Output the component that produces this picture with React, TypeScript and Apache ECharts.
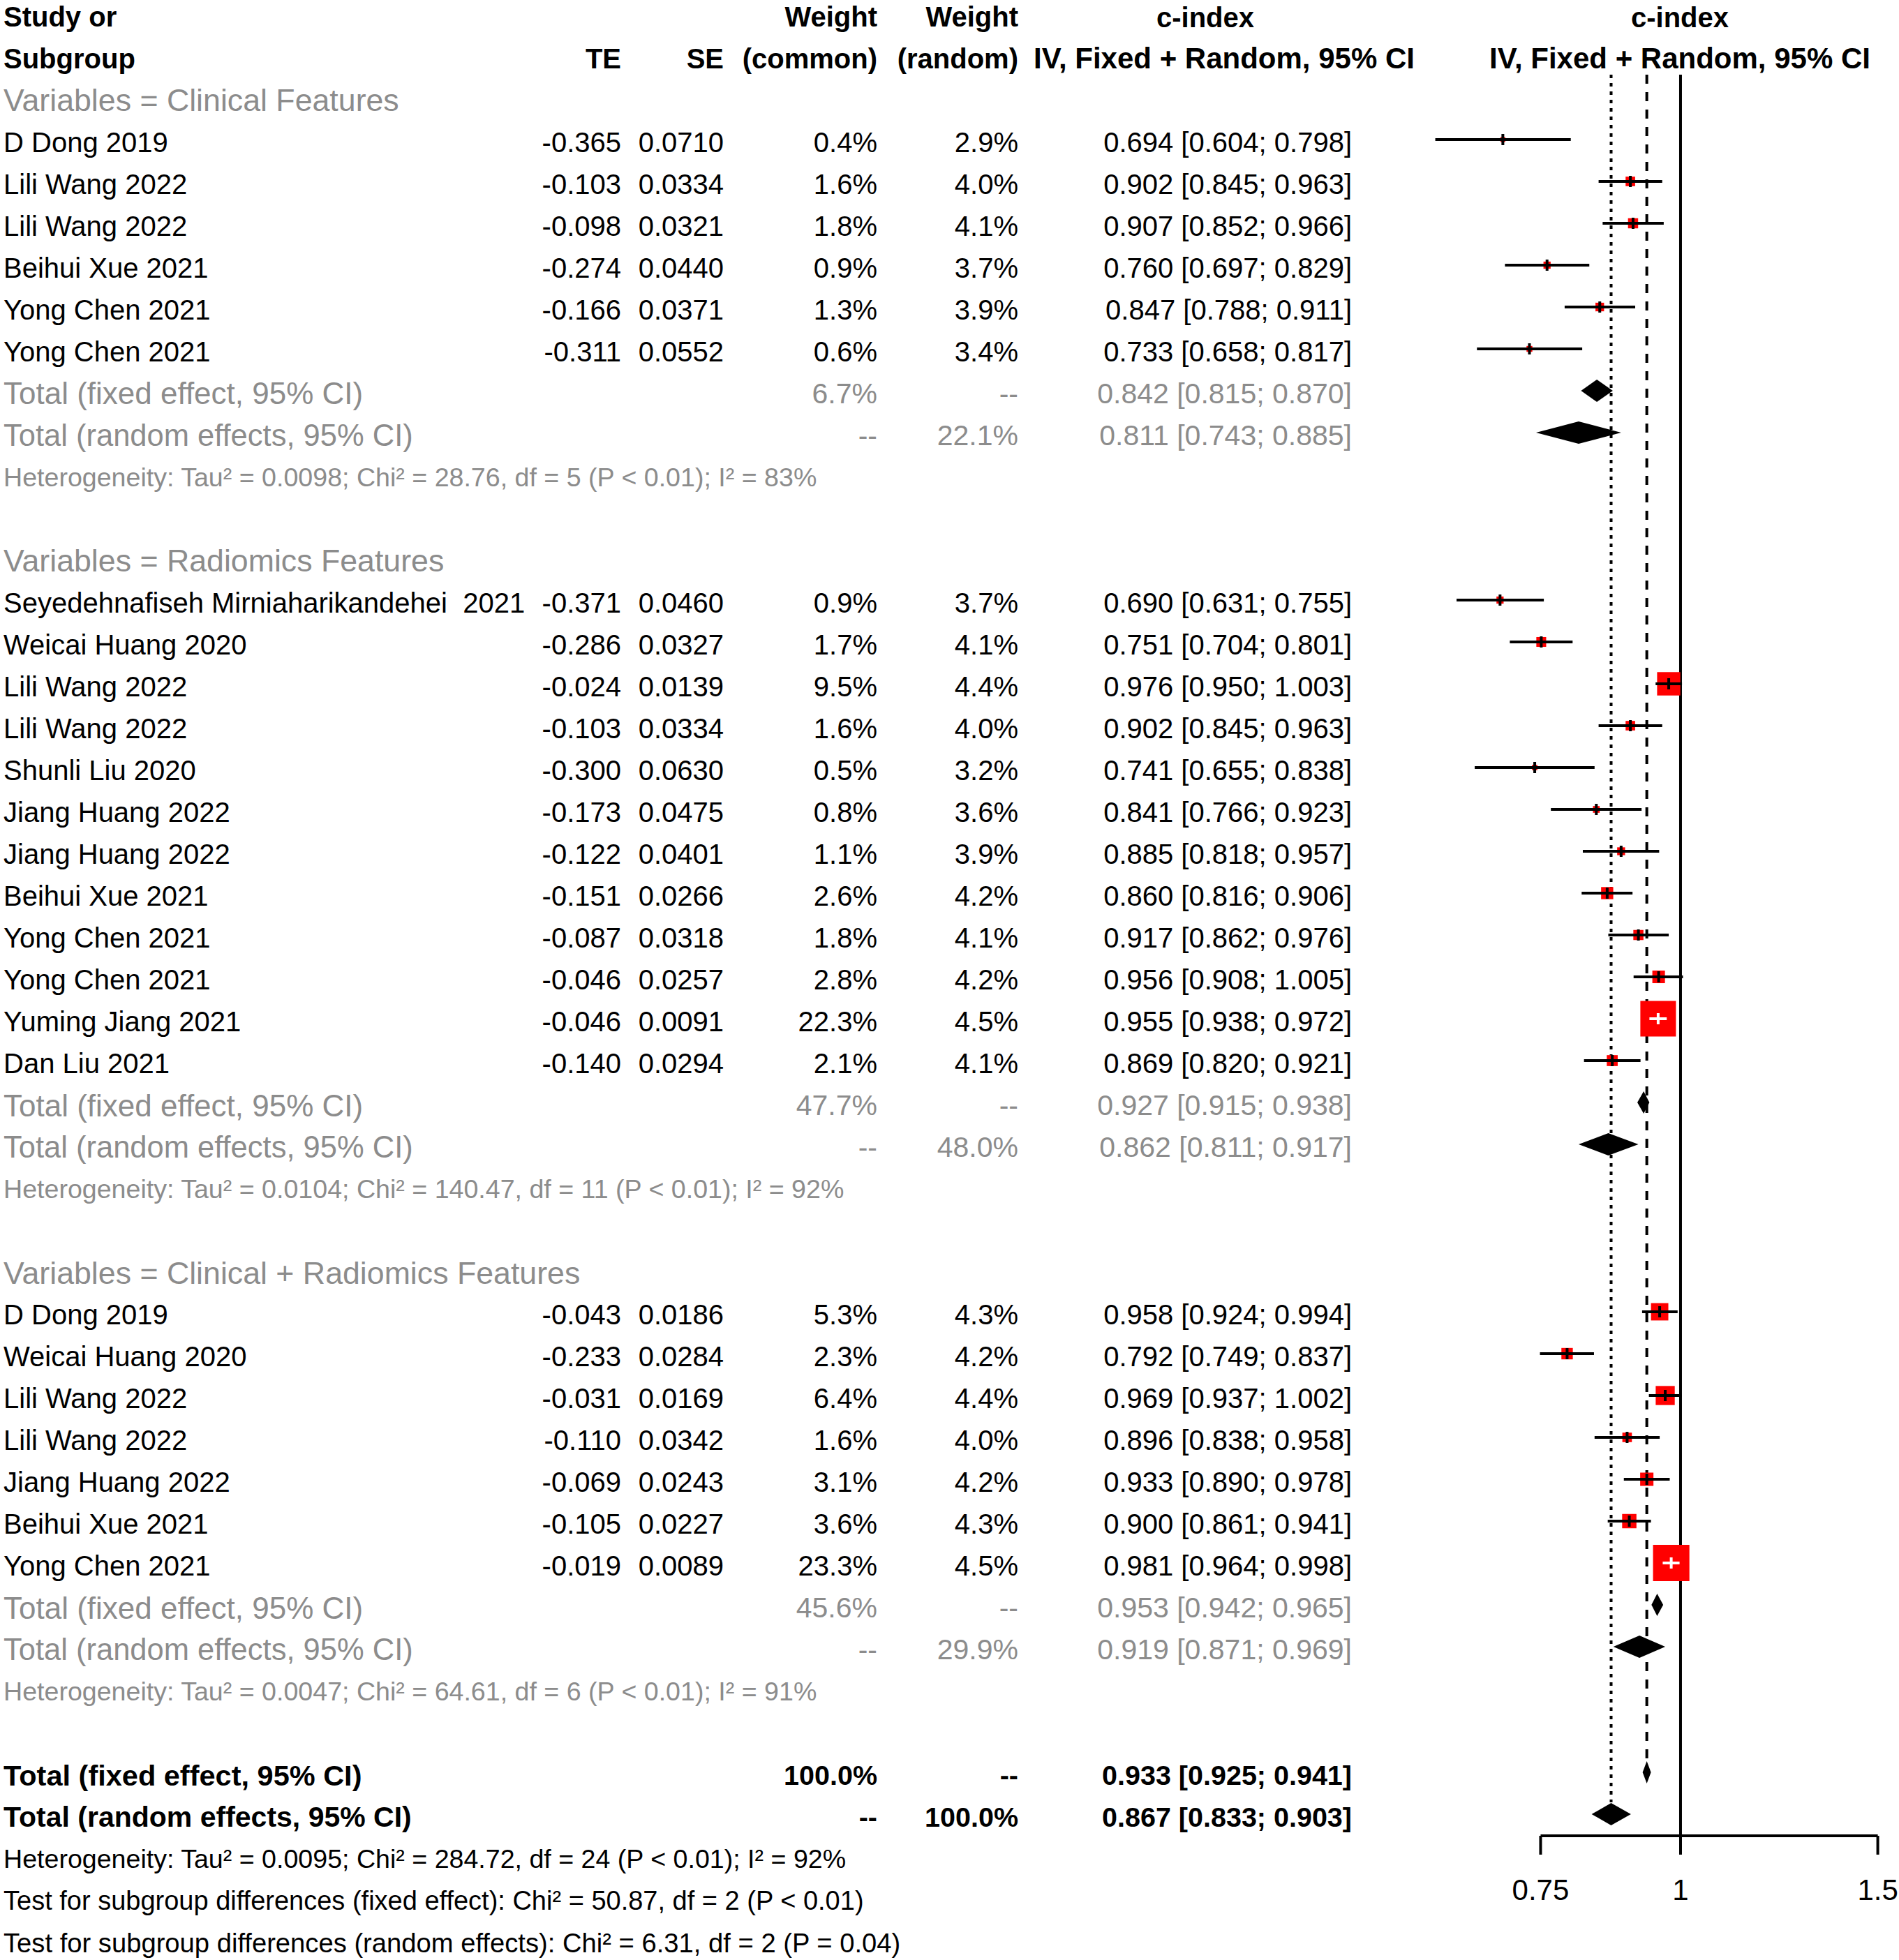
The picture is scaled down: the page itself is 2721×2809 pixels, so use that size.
import React, { useEffect, useRef } from "react";
import * as echarts from "echarts";

// ---------------- DATA ----------------
const groupLabels = [
  "Variables = Clinical Features",
  "Variables = Radiomics Features",
  "Variables = Clinical + Radiomics Features",
];

const clinNames = ["D Dong 2019", "Lili Wang 2022", "Lili Wang 2022", "Beihui Xue 2021", "Yong Chen 2021", "Yong Chen 2021"];
const clinTE = [-0.365, -0.103, -0.098, -0.274, -0.166, -0.311];
const clinSE = [0.071, 0.0334, 0.0321, 0.044, 0.0371, 0.0552];
const clinWCommon = [0.4, 1.6, 1.8, 0.9, 1.3, 0.6];
const clinWRandom = [2.9, 4.0, 4.1, 3.7, 3.9, 3.4];
const clinEst = [0.694, 0.902, 0.907, 0.76, 0.847, 0.733];
const clinLow = [0.604, 0.845, 0.852, 0.697, 0.788, 0.658];
const clinHigh = [0.798, 0.963, 0.966, 0.829, 0.911, 0.817];

const radNames = [
  "Seyedehnafiseh Mirniaharikandehei  2021", "Weicai Huang 2020", "Lili Wang 2022", "Lili Wang 2022",
  "Shunli Liu 2020", "Jiang Huang 2022", "Jiang Huang 2022", "Beihui Xue 2021", "Yong Chen 2021",
  "Yong Chen 2021", "Yuming Jiang 2021", "Dan Liu 2021",
];
const radTE = [-0.371, -0.286, -0.024, -0.103, -0.3, -0.173, -0.122, -0.151, -0.087, -0.046, -0.046, -0.14];
const radSE = [0.046, 0.0327, 0.0139, 0.0334, 0.063, 0.0475, 0.0401, 0.0266, 0.0318, 0.0257, 0.0091, 0.0294];
const radWCommon = [0.9, 1.7, 9.5, 1.6, 0.5, 0.8, 1.1, 2.6, 1.8, 2.8, 22.3, 2.1];
const radWRandom = [3.7, 4.1, 4.4, 4.0, 3.2, 3.6, 3.9, 4.2, 4.1, 4.2, 4.5, 4.1];
const radEst = [0.69, 0.751, 0.976, 0.902, 0.741, 0.841, 0.885, 0.86, 0.917, 0.956, 0.955, 0.869];
const radLow = [0.631, 0.704, 0.95, 0.845, 0.655, 0.766, 0.818, 0.816, 0.862, 0.908, 0.938, 0.82];
const radHigh = [0.755, 0.801, 1.003, 0.963, 0.838, 0.923, 0.957, 0.906, 0.976, 1.005, 0.972, 0.921];

const combNames = ["D Dong 2019", "Weicai Huang 2020", "Lili Wang 2022", "Lili Wang 2022", "Jiang Huang 2022", "Beihui Xue 2021", "Yong Chen 2021"];
const combTE = [-0.043, -0.233, -0.031, -0.11, -0.069, -0.105, -0.019];
const combSE = [0.0186, 0.0284, 0.0169, 0.0342, 0.0243, 0.0227, 0.0089];
const combWCommon = [5.3, 2.3, 6.4, 1.6, 3.1, 3.6, 23.3];
const combWRandom = [4.3, 4.2, 4.4, 4.0, 4.2, 4.3, 4.5];
const combEst = [0.958, 0.792, 0.969, 0.896, 0.933, 0.9, 0.981];
const combLow = [0.924, 0.749, 0.937, 0.838, 0.89, 0.861, 0.964];
const combHigh = [0.994, 0.837, 1.002, 0.958, 0.978, 0.941, 0.998];

const subFixedEst = [0.842, 0.927, 0.953];
const subFixedLow = [0.815, 0.915, 0.942];
const subFixedHigh = [0.87, 0.938, 0.965];
const subFixedW = [6.7, 47.7, 45.6];
const subRandomEst = [0.811, 0.862, 0.919];
const subRandomLow = [0.743, 0.811, 0.871];
const subRandomHigh = [0.885, 0.917, 0.969];
const subRandomW = [22.1, 48.0, 29.9];
const subHet = [
  "Heterogeneity: Tau² = 0.0098; Chi² = 28.76, df = 5 (P < 0.01); I² = 83%",
  "Heterogeneity: Tau² = 0.0104; Chi² = 140.47, df = 11 (P < 0.01); I² = 92%",
  "Heterogeneity: Tau² = 0.0047; Chi² = 64.61, df = 6 (P < 0.01); I² = 91%",
];

const overallFixed = [0.933, 0.925, 0.941];
const overallRandom = [0.867, 0.833, 0.903];
const overallNotes = [
  "Heterogeneity: Tau² = 0.0095; Chi² = 284.72, df = 24 (P < 0.01); I² = 92%",
  "Test for subgroup differences (fixed effect): Chi² = 50.87, df = 2 (P < 0.01)",
  "Test for subgroup differences (random effects): Chi² = 6.31, df = 2 (P = 0.04)",
];

const axisTicks = [0.75, 1, 1.5];
const axisTickLabels = ["0.75", "1", "1.5"];

// ---------------- BUILD ROWS ----------------
const groups = [
  { names: clinNames, te: clinTE, se: clinSE, wc: clinWCommon, wr: clinWRandom, est: clinEst, lo: clinLow, hi: clinHigh },
  { names: radNames, te: radTE, se: radSE, wc: radWCommon, wr: radWRandom, est: radEst, lo: radLow, hi: radHigh },
  { names: combNames, te: combTE, se: combSE, wc: combWCommon, wr: combWRandom, est: combEst, lo: combLow, hi: combHigh },
];

type Row = { row: number; kind: string; g?: number; i?: number };
const rows: Row[] = [];
const studyMarks: number[][] = [];
const diamondMarks: number[][] = [];
rows.push({ row: 0, kind: "head0" });
rows.push({ row: 1, kind: "head1" });
let r = 2;
groups.forEach((g, gi) => {
  rows.push({ row: r++, kind: "group", g: gi });
  g.names.forEach((_, i) => {
    rows.push({ row: r, kind: "study", g: gi, i });
    studyMarks.push([Math.log(g.est[i]), r, Math.log(g.lo[i]), Math.log(g.hi[i]), g.wc[i]]);
    r++;
  });
  rows.push({ row: r, kind: "fixed", g: gi });
  diamondMarks.push([Math.log(subFixedEst[gi]), r, Math.log(subFixedLow[gi]), Math.log(subFixedHigh[gi])]);
  r++;
  rows.push({ row: r, kind: "random", g: gi });
  diamondMarks.push([Math.log(subRandomEst[gi]), r, Math.log(subRandomLow[gi]), Math.log(subRandomHigh[gi])]);
  r++;
  rows.push({ row: r++, kind: "het", g: gi });
  r++; // blank
});
const overallFixedRow = r;
rows.push({ row: r, kind: "ofixed" });
diamondMarks.push([Math.log(overallFixed[0]), r, Math.log(overallFixed[1]), Math.log(overallFixed[2])]);
r++;
const overallRandomRow = r;
rows.push({ row: r, kind: "orandom" });
diamondMarks.push([Math.log(overallRandom[0]), r, Math.log(overallRandom[1]), Math.log(overallRandom[2])]);
r++;
overallNotes.forEach((_, i) => rows.push({ row: r++, kind: "onote", i }));

const refLines = [
  [0, overallRandomRow + 0.6],
  [Math.log(overallRandom[0]), overallRandomRow],
  [Math.log(overallFixed[0]), overallFixedRow],
];

// ---------------- STYLE / LAYOUT ----------------
const FONT = '"Liberation Sans", Arial, sans-serif';
const GRAY = "#8c8c8c";
const COL = { name: 5, te: 890, se: 1037, wc: 1257, wr: 1459, ci: 1937, ciHead: 1754, plot: 2407 };
const NOTE_SIZES = [37.6, 38, 38.2];
const fmtCI = (e: number, l: number, h: number) => `${e.toFixed(3)} [${l.toFixed(3)}; ${h.toFixed(3)}]`;

function txt(text: string, x: number, y: number, align: string, size: number, color: string, weight = "normal") {
  return {
    type: "text",
    x,
    y: y + 4,
    style: { text, fill: color, fontSize: size, fontFamily: FONT, fontWeight: weight, align, verticalAlign: "middle" },
  };
}

export default function App() {
  const ref = useRef<HTMLDivElement>(null);
  useEffect(() => {
    if (!ref.current) return;
    const chart = echarts.init(ref.current, undefined, { renderer: "svg" });

    const tableRender = (params: any, api: any) => {
      const row = rows[params.dataIndex];
      const y = api.coord([0, api.value(1)])[1];
      const ch: any[] = [];
      const g = row.g ?? 0;
      switch (row.kind) {
        case "head0":
          ch.push(txt("Study or", COL.name, y, "left", 40, "#000", "bold"));
          ch.push(txt("Weight", COL.wc, y, "right", 40, "#000", "bold"));
          ch.push(txt("Weight", COL.wr, y, "right", 40, "#000", "bold"));
          ch.push(txt("c-index", 1727, y + 1, "center", 40, "#000", "bold"));
          ch.push(txt("c-index", COL.plot, y + 1, "center", 40, "#000", "bold"));
          break;
        case "head1":
          ch.push(txt("Subgroup", COL.name, y, "left", 40, "#000", "bold"));
          ch.push(txt("TE", COL.te, y, "right", 40, "#000", "bold"));
          ch.push(txt("SE", COL.se, y, "right", 40, "#000", "bold"));
          ch.push(txt("(common)", COL.wc, y, "right", 40, "#000", "bold"));
          ch.push(txt("(random)", COL.wr, y, "right", 40, "#000", "bold"));
          ch.push(txt("IV, Fixed + Random, 95% CI", COL.ciHead, y, "center", 42, "#000", "bold"));
          ch.push(txt("IV, Fixed + Random, 95% CI", COL.plot, y, "center", 42, "#000", "bold"));
          break;
        case "group":
          ch.push(txt(groupLabels[g], COL.name, y, "left", 44.7, GRAY));
          break;
        case "study": {
          const gr = groups[g];
          const i = row.i ?? 0;
          ch.push(txt(gr.names[i], COL.name, y, "left", 40, "#000"));
          ch.push(txt(gr.te[i].toFixed(3), COL.te, y, "right", 40, "#000"));
          ch.push(txt(gr.se[i].toFixed(4), COL.se, y, "right", 40, "#000"));
          ch.push(txt(gr.wc[i].toFixed(1) + "%", COL.wc, y, "right", 40, "#000"));
          ch.push(txt(gr.wr[i].toFixed(1) + "%", COL.wr, y, "right", 40, "#000"));
          ch.push(txt(fmtCI(gr.est[i], gr.lo[i], gr.hi[i]), COL.ci, y, "right", 40, "#000"));
          break;
        }
        case "fixed":
          ch.push(txt("Total (fixed effect, 95% CI)", COL.name, y, "left", 44, GRAY));
          ch.push(txt(subFixedW[g].toFixed(1) + "%", COL.wc, y, "right", 41, GRAY));
          ch.push(txt("--", COL.wr, y, "right", 41, GRAY));
          ch.push(txt(fmtCI(subFixedEst[g], subFixedLow[g], subFixedHigh[g]), COL.ci, y, "right", 41, GRAY));
          break;
        case "random":
          ch.push(txt("Total (random effects, 95% CI)", COL.name, y, "left", 43.5, GRAY));
          ch.push(txt("--", COL.wc, y, "right", 41, GRAY));
          ch.push(txt(subRandomW[g].toFixed(1) + "%", COL.wr, y, "right", 41, GRAY));
          ch.push(txt(fmtCI(subRandomEst[g], subRandomLow[g], subRandomHigh[g]), COL.ci, y, "right", 41, GRAY));
          break;
        case "het":
          ch.push(txt(subHet[g], COL.name, y, "left", 37.6, GRAY));
          break;
        case "ofixed":
          ch.push(txt("Total (fixed effect, 95% CI)", COL.name, y, "left", 41.5, "#000", "bold"));
          ch.push(txt("100.0%", COL.wc, y, "right", 39.5, "#000", "bold"));
          ch.push(txt("--", COL.wr, y, "right", 39.5, "#000", "bold"));
          ch.push(txt(fmtCI(overallFixed[0], overallFixed[1], overallFixed[2]), COL.ci, y, "right", 39.5, "#000", "bold"));
          break;
        case "orandom":
          ch.push(txt("Total (random effects, 95% CI)", COL.name, y, "left", 41, "#000", "bold"));
          ch.push(txt("--", COL.wc, y, "right", 39.5, "#000", "bold"));
          ch.push(txt("100.0%", COL.wr, y, "right", 39.5, "#000", "bold"));
          ch.push(txt(fmtCI(overallRandom[0], overallRandom[1], overallRandom[2]), COL.ci, y, "right", 39.5, "#000", "bold"));
          break;
        case "onote": {
          const i = row.i ?? 0;
          ch.push(txt(overallNotes[i], COL.name, y, "left", NOTE_SIZES[i], "#000"));
          break;
        }
      }
      return { type: "group", children: ch };
    };

    const studyRender = (params: any, api: any) => {
      const c = api.coord([api.value(0), api.value(1)]);
      const l = api.coord([api.value(2), api.value(1)])[0];
      const h = api.coord([api.value(3), api.value(1)])[0];
      const s = Math.max(7, 10.8 * Math.sqrt(api.value(4)));
      const inside = l >= c[0] - s / 2 && h <= c[0] + s / 2;
      const lc = inside ? "#fff" : "#000";
      return {
        type: "group",
        children: [
          { type: "rect", shape: { x: c[0] - s / 2, y: c[1] - s / 2, width: s, height: s }, style: { fill: "#ff0000" } },
          { type: "line", shape: { x1: l, y1: c[1], x2: h, y2: c[1] }, style: { stroke: lc, lineWidth: 4 } },
          { type: "line", shape: { x1: c[0], y1: c[1] - 8, x2: c[0], y2: c[1] + 8 }, style: { stroke: lc, lineWidth: 4 } },
        ],
      };
    };

    const diamondRender = (params: any, api: any) => {
      const c = api.coord([api.value(0), api.value(1)]);
      const l = api.coord([api.value(2), api.value(1)])[0];
      const h = api.coord([api.value(3), api.value(1)])[0];
      return {
        type: "polygon",
        shape: { points: [[l, c[1]], [c[0], c[1] - 16], [h, c[1]], [c[0], c[1] + 16]] },
        style: { fill: "#000" },
      };
    };

    const refRender = (params: any, api: any) => {
      const x = api.coord([api.value(0), 0])[0];
      const top = api.coord([0, 1])[1] + 27;
      const endY = api.coord([0, api.value(1)])[1];
      const idx = params.dataIndex;
      const dash = idx === 0 ? null : idx === 1 ? [5, 7] : [13, 12];
      const y2 = idx === 0 ? endY : endY - 17;
      return {
        type: "line",
        shape: { x1: x, y1: top, x2: x, y2 },
        style: { stroke: "#000", lineWidth: 4, lineDash: dash },
      };
    };

    const axisRender = (params: any, api: any) => {
      const base = api.coord([0, overallRandomRow])[1] + 31;
      const x = api.coord([api.value(0), 0])[0];
      const ch: any[] = [
        { type: "line", shape: { x1: x, y1: base, x2: x, y2: base + 27 }, style: { stroke: "#000", lineWidth: 4 } },
        {
          type: "text",
          x,
          y: base + 77,
          style: { text: axisTickLabels[params.dataIndex], fill: "#000", fontSize: 42, fontFamily: FONT, align: "center", verticalAlign: "middle" },
        },
      ];
      if (params.dataIndex === 0) {
        const xe = api.coord([Math.log(axisTicks[axisTicks.length - 1]), 0])[0];
        ch.push({ type: "line", shape: { x1: x, y1: base, x2: xe, y2: base }, style: { stroke: "#000", lineWidth: 4 } });
      }
      return { type: "group", children: ch };
    };

    chart.setOption({
      animation: false,
      backgroundColor: "#fff",
      grid: { left: 0, right: 0, top: 0, bottom: 0 },
      xAxis: { type: "value", min: -3.4548, max: 0.4491, show: false },
      yAxis: { type: "value", inverse: true, min: -0.3333, max: 46.4833, show: false },
      series: [
        { type: "custom", name: "ref", renderItem: refRender, data: refLines, silent: true },
        { type: "custom", name: "studies", renderItem: studyRender, data: studyMarks, silent: true },
        { type: "custom", name: "pooled", renderItem: diamondRender, data: diamondMarks, silent: true },
        { type: "custom", name: "axis", renderItem: axisRender, data: axisTicks.map((v) => [Math.log(v), overallRandomRow]), silent: true },
        { type: "custom", name: "table", renderItem: tableRender, data: rows.map((rw) => [0, rw.row]), silent: true },
      ],
    });
    return () => chart.dispose();
  }, []);
  return <div ref={ref} style={{ position: "absolute", left: 0, top: 0, width: 2721, height: 2809, background: "#fff" }} />;
}
